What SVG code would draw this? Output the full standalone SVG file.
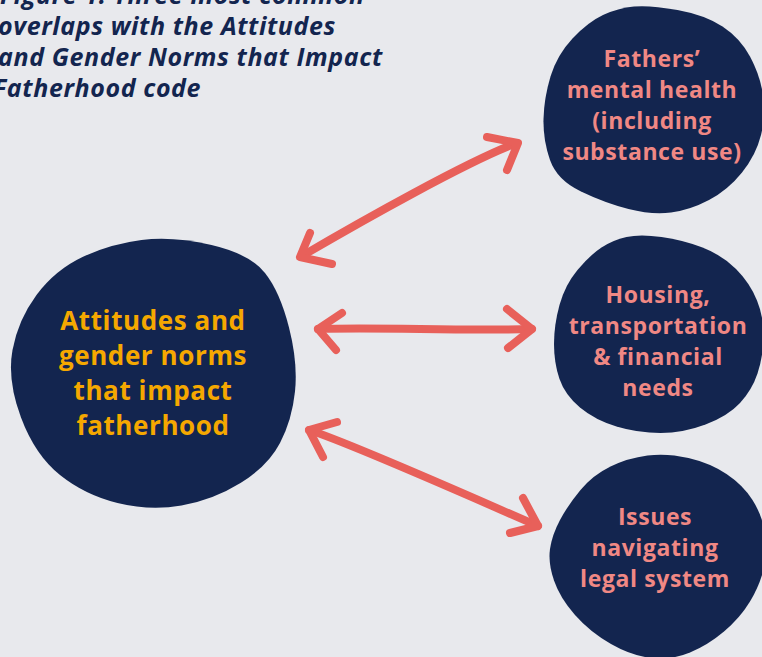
<svg xmlns="http://www.w3.org/2000/svg" width="762" height="657" viewBox="0 0 762 657">
<style>
.bg{fill:#E8E9ED}
.blob{fill:#13254F}
.title{font-family:"Open Sans","Noto Sans",sans-serif;font-weight:700;font-style:italic;font-size:25px;fill:#13254F;letter-spacing:0.6px}
.main{font-family:"Open Sans","Noto Sans",sans-serif;font-weight:700;font-size:26px;fill:#F5A800;text-anchor:middle;letter-spacing:0.6px}
.side{font-family:"Open Sans","Noto Sans",sans-serif;font-weight:700;font-size:23px;fill:#F08884;text-anchor:middle;letter-spacing:0.6px}
.arr{fill:none;stroke:#E8605A;stroke-width:8;stroke-linecap:round;stroke-linejoin:round}
</style>
<rect class="bg" x="0" y="0" width="762" height="657"/>
<g id="title">
<text class="title" x="0" y="4">Figure 1: Three most common</text>
<text class="title" x="-2" y="35">overlaps with the Attitudes</text>
<text class="title" x="-2" y="66">and Gender Norms that Impact</text>
<text class="title" x="-7" y="97">Fatherhood code</text>
</g>
<g id="connectors">
<path class="arr" d="M302,256 C360,222 470,160 517,143"/>
<path class="arr" d="M310,233 L300,257 L332,264"/>
<path class="arr" d="M487,137 L518,143 L507,170"/>
<path class="arr" d="M318,329 C380,327 460,331 532,329"/>
<path class="arr" d="M342,313 L318,329 L336,350"/>
<path class="arr" d="M507,309 L532,329 L508,348"/>
<path class="arr" d="M309,430 C350,443 460,492 538,526"/>
<path class="arr" d="M337,422 L309,430 L323,457"/>
<path class="arr" d="M523,498 L538,526 L510,533"/>
</g>
<g id="node-attitudes">
<path class="blob" d="M211.5,245 Q250,254 265,273 Q280,292 289,327.5 Q298,363 295,391.5 Q292,420 280,443 Q268,466 240.5,483 Q213,500 181.5,505.5 Q150,511 117.5,503 Q85,495 60,475 Q35,455 21,417.5 Q7,380 12.5,350 Q18,320 36.5,295 Q55,270 82.5,257 Q110,244 141.5,240 Q173,236 211.5,245Z"/>
<text class="main" x="153" y="330">Attitudes and</text>
<text class="main" x="153" y="365">gender norms</text>
<text class="main" x="153" y="400">that impact</text>
<text class="main" x="153" y="435">fatherhood</text>
</g>
<g id="node-mental-health">
<path class="blob" d="M677.5,10 Q705,15 722.5,26.5 Q740,38 750,56.5 Q760,75 763,95 Q766,115 761,135 Q756,155 742,172.5 Q728,190 709,200 Q690,210 671,212.5 Q652,215 628.5,209 Q605,203 581,191.5 Q557,180 550,160 Q543,140 543.5,119 Q544,98 550.5,76.5 Q557,55 572.5,38.5 Q588,22 603,15 Q618,8 634,6.5 Q650,5 677.5,10Z"/>
<text class="side" x="652" y="67">Fathers’</text>
<text class="side" x="652" y="98">mental health</text>
<text class="side" x="652" y="129">(including</text>
<text class="side" x="652" y="160">substance use)</text>
</g>
<g id="node-housing">
<path class="blob" d="M661.5,237 Q683,240 702.5,247.5 Q722,255 736,269 Q750,283 757,300.5 Q764,318 763.5,337.5 Q763,357 757.5,373.5 Q752,390 740,403 Q728,416 705.5,424.5 Q683,433 660.5,433 Q638,433 616.5,426.5 Q595,420 580,407.5 Q565,395 559.5,379 Q554,363 554,344 Q554,325 559.5,305 Q565,285 577.5,270 Q590,255 601.5,247.5 Q613,240 626.5,237 Q640,234 661.5,237Z"/>
<text class="side" x="658" y="303">Housing,</text>
<text class="side" x="658" y="334">transportation</text>
<text class="side" x="658" y="365">&amp; financial</text>
<text class="side" x="658" y="396">needs</text>
</g>
<g id="node-legal">
<path class="blob" d="M688.5,458 Q710,463 726.5,474 Q743,485 752.5,500 Q762,515 765,532.5 Q768,550 764,567.5 Q760,585 750,601.5 Q740,618 724,631.5 Q708,645 690,652.5 Q672,660 652,658 Q632,656 611,644 Q590,632 575,615 Q560,598 554,580.5 Q548,563 550,549 Q552,535 560,520 Q568,505 580.5,490 Q593,475 610.5,466.5 Q628,458 647.5,455.5 Q667,453 688.5,458Z"/>
<text class="side" x="655" y="525">Issues</text>
<text class="side" x="655" y="556">navigating</text>
<text class="side" x="655" y="587">legal system</text>
</g>
</svg>
